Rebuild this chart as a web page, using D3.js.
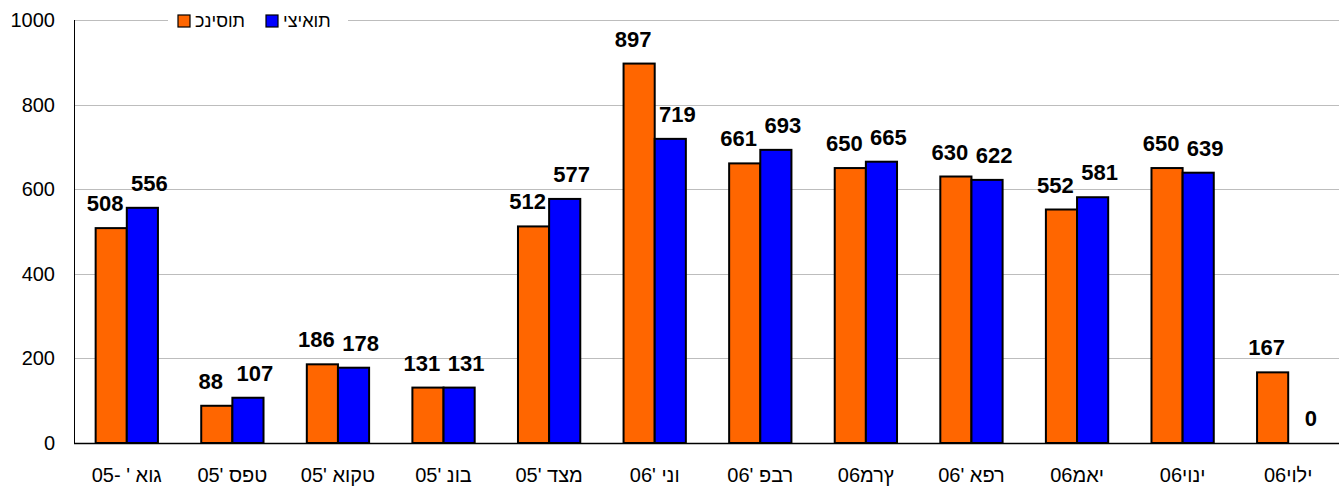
<!DOCTYPE html>
<html>
<head>
<meta charset="utf-8">
<script src="https://cdn.jsdelivr.net/npm/d3@7"></script>
<style>
  html, body { margin: 0; padding: 0; background: #fff; }
  svg { display: block; font-family: "Liberation Sans", Arial, sans-serif; }
  .vis { unicode-bidi: bidi-override; direction: ltr; }
</style>
</head>
<body>
<svg width="1339" height="489"></svg>
<script>
// month labels, as drawn in the source (visual glyph order, left to right)
const months = ["05- ' אוג", "05' ספט", "05' אוקט", "05' נוב", "05' דצמ", "06' ינו",
                "06' פבר", "06מרץ", "06' אפר", "06מאי", "06יוני", "06יולי"];
const seriesNames = ["כניסות", "יציאות"];
const entries = [508, 88, 186, 131, 512, 897, 661, 650, 630, 552, 650, 167];
const exits   = [556, 107, 178, 131, 577, 719, 693, 665, 622, 581, 639, 0];
const yTicks = [0, 200, 400, 600, 800, 1000];

const colors = ["#FF6600", "#0000FF"];
const svg = d3.select("svg");
const width = 1339, height = 489;
const margin = {top: 20, right: -2, bottom: 46, left: 74};

const x = d3.scaleBand()
    .domain(months)
    .range([margin.left, width - margin.right])
    .paddingInner(0.41)
    .paddingOuter(0.205);

const xs = d3.scaleBand()
    .domain([0, 1])
    .range([0, x.bandwidth()]);

const y = d3.scaleLinear()
    .domain([0, 1000])
    .range([height - margin.bottom, margin.top]);

// gridlines
svg.append("g").selectAll("line")
    .data(yTicks.filter(d => d > 0))
    .enter().append("line")
        .attr("x1", margin.left)
        .attr("x2", width)
        .attr("y1", d => Math.round(y(d)) + 0.5)
        .attr("y2", d => Math.round(y(d)) + 0.5)
        .attr("stroke", "#bdbdbd")
        .attr("stroke-width", 1);

// y tick labels
svg.append("g").selectAll("text")
    .data(yTicks)
    .enter().append("text")
        .attr("x", 55)
        .attr("y", d => y(d))
        .attr("dy", "0.35em")
        .attr("text-anchor", "end")
        .attr("font-size", 20)
        .attr("fill", "#000")
        .text(d => d);

// bars
const rows = months.map((m, i) => ({month: m, values: [entries[i], exits[i]]}));

const groups = svg.append("g").selectAll("g")
    .data(rows)
    .enter().append("g")
        .attr("transform", d => "translate(" + x(d.month) + ",0)");

groups.selectAll("rect")
    .data(d => d.values.map((v, k) => ({k: k, v: v})).filter(e => e.v > 0))
    .enter().append("rect")
        .attr("x", d => xs(d.k))
        .attr("y", d => y(d.v))
        .attr("width", xs.bandwidth())
        .attr("height", d => y(0) - y(d.v))
        .attr("fill", d => colors[d.k])
        .attr("stroke", "#000")
        .attr("stroke-width", 2);

// value labels
groups.selectAll("text")
    .data(d => d.values.map((v, k) => ({k: k, v: v})))
    .enter().append("text")
        .attr("x", d => xs(d.k) + xs.bandwidth() / 2 + (d.k === 0 ? -6 : 7))
        .attr("y", d => y(d.v) - 17)
        .attr("text-anchor", "middle")
        .attr("font-size", 22)
        .attr("font-weight", "bold")
        .attr("fill", "#000")
        .text(d => d.v);

// axes lines
svg.append("line")
    .attr("x1", margin.left + 0.5).attr("x2", margin.left + 0.5)
    .attr("y1", y(1000)).attr("y2", y(0))
    .attr("stroke", "#000");
svg.append("line")
    .attr("x1", margin.left).attr("x2", width)
    .attr("y1", y(0) + 0.5).attr("y2", y(0) + 0.5)
    .attr("stroke", "#000").attr("stroke-width", 1.5);

// x labels
svg.append("g").selectAll("text")
    .data(months)
    .enter().append("text")
        .attr("class", "vis")
        .attr("x", d => x(d) + x.bandwidth() / 2)
        .attr("y", 482)
        .attr("text-anchor", "middle")
        .attr("font-size", 20)
        .attr("fill", "#000")
        .text(d => d);

// legend
const legend = svg.append("g");
legend.append("rect")
    .attr("x", 168).attr("y", 8)
    .attr("width", 180).attr("height", 26)
    .attr("fill", "#fff");
const legendItems = [{name: seriesNames[0], x: 178, c: colors[0]},
                     {name: seriesNames[1], x: 266, c: colors[1]}];
legendItems.forEach(function(it) {
    legend.append("rect")
        .attr("x", it.x).attr("y", 15)
        .attr("width", 12).attr("height", 12)
        .attr("fill", it.c)
        .attr("stroke", "#000")
        .attr("stroke-width", 1.2);
    legend.append("text")
        .attr("class", "vis")
        .attr("x", it.x + 17)
        .attr("y", 27)
        .attr("font-size", 18)
        .attr("fill", "#000")
        .text(it.name);
});
</script>
</body>
</html>
